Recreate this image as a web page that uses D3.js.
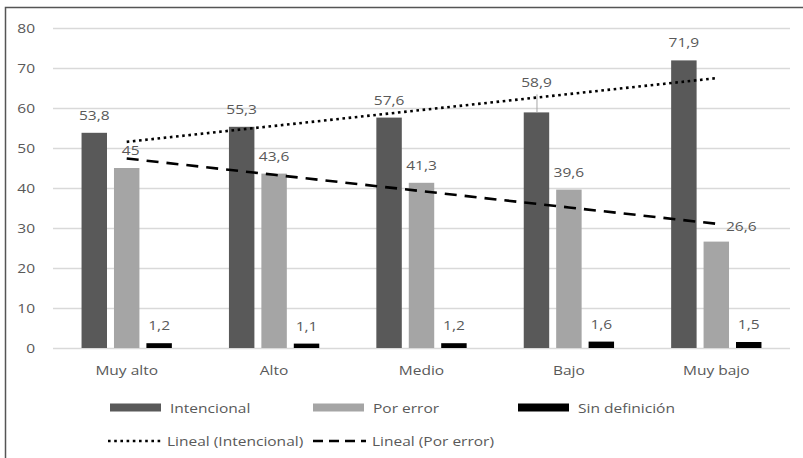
<!DOCTYPE html>
<html>
<head>
  <meta charset="utf-8">
  <script src="https://d3js.org/d3.v7.min.js"></script>
  <style>
    body { margin: 0; background: #fff; }
    svg text { font-family: "Open Sans", "Noto Sans", sans-serif; fill: #595959; font-size: 13.5px; }
  </style>
</head>
<body>
  <svg id="chart" width="803" height="458"></svg>
  <script>
    // data
    const categories = ["Muy alto", "Alto", "Medio", "Bajo", "Muy bajo"];
    const seriesNames = ["Intencional", "Por error", "Sin definición"];
    const intencional = [53.8, 55.3, 57.6, 58.9, 71.9];
    const porError = [45, 43.6, 41.3, 39.6, 26.6];
    const sinDefinicion = [1.2, 1.1, 1.2, 1.6, 1.5];
    const yTicks = [0, 10, 20, 30, 40, 50, 60, 70, 80];

    const colors = { "Intencional": "#595959", "Por error": "#a5a5a5", "Sin definición": "#000000" };
    const valuesBySeries = { "Intencional": intencional, "Por error": porError, "Sin definición": sinDefinicion };

    // a few data labels were dragged by hand in the original
    const labelNudge = {
      "Por error|Muy alto": { dx: 4, dy: 0 },
      "Intencional|Bajo": { dx: 0, dy: -12, leader: true },
      "Por error|Muy bajo": { dx: 25, dy: 2 }
    };

    const svg = d3.select("#chart");
    const mLeft = 53, mRight = 790, mTop = 28, mBottom = 348;

    // the source image is stretched sideways, so text gets a horizontal scale
    function addText(parent, x, yy, str, anchor) {
      parent.append("g")
        .attr("transform", `translate(${x},${yy}) scale(1.15,1)`)
        .append("text")
        .attr("text-anchor", anchor || "start")
        .text(str);
    }

    // chart border (right/bottom fall outside the picture)
    svg.append("rect")
      .attr("x", 5.5).attr("y", 7.5)
      .attr("width", 820).attr("height", 480)
      .attr("fill", "none").attr("stroke", "#555").attr("stroke-width", 1.5);

    const y = d3.scaleLinear().domain([0, 80]).range([mBottom, mTop]);
    const x0 = d3.scaleBand().domain(categories).range([mLeft, mRight]);
    const groupW = x0.bandwidth() * 0.66;
    const x1 = d3.scaleBand().domain(seriesNames)
      .range([-groupW / 2, groupW / 2])
      .paddingInner(0.215).paddingOuter(0.1075);

    // gridlines
    svg.append("g").selectAll("line").data(yTicks).join("line")
      .attr("x1", mLeft).attr("x2", mRight)
      .attr("y1", d => Math.round(y(d)) + 0.5).attr("y2", d => Math.round(y(d)) + 0.5)
      .attr("stroke", "#d9d9d9").attr("stroke-width", 1.3);

    const yLab = svg.append("g");
    yTicks.forEach(t => addText(yLab, 35, y(t) + 4.8, t, "end"));

    const xLab = svg.append("g");
    categories.forEach(c => addText(xLab, x0(c) + x0.bandwidth() / 2, 374.8, c, "middle"));

    const bars = [];
    seriesNames.forEach(s => {
      categories.forEach((c, i) => bars.push({ s, c, v: valuesBySeries[s][i] }));
    });
    const barX = d => x0(d.c) + x0.bandwidth() / 2 + x1(d.s);

    svg.append("g").selectAll("rect").data(bars).join("rect")
      .attr("x", barX).attr("width", x1.bandwidth())
      .attr("y", d => y(d.v)).attr("height", d => y(0) - y(d.v))
      .attr("fill", d => colors[d.s]);

    // linear trendlines (least squares over category index)
    function fit(vals) {
      const n = vals.length, xs = d3.range(1, n + 1);
      const mx = d3.mean(xs), my = d3.mean(vals);
      const b = d3.sum(xs, (xx, i) => (xx - mx) * (vals[i] - my)) / d3.sum(xs, xx => (xx - mx) ** 2);
      return xs.map(xx => my + b * (xx - mx));
    }
    const cx = c => x0(c) + x0.bandwidth() / 2;
    const line = d3.line().x((d, i) => cx(categories[i])).y(d => y(d));

    svg.append("path").datum(fit(intencional))
      .attr("d", line).attr("fill", "none").attr("stroke", "#000")
      .attr("stroke-width", 2.6).attr("stroke-dasharray", "2.6,3.6");
    svg.append("path").datum(fit(porError))
      .attr("d", line).attr("fill", "none").attr("stroke", "#000")
      .attr("stroke-width", 2.6).attr("stroke-dasharray", "12,8");

    // data labels
    const fmt = v => String(v).replace(".", ",");
    const lab = svg.append("g");
    bars.forEach(d => {
      const n = labelNudge[d.s + "|" + d.c] || { dx: 0, dy: 0 };
      const lx = barX(d) + x1.bandwidth() / 2 + n.dx;
      const ly = y(d.v) - 13 + n.dy;
      if (n.leader) {
        lab.append("line")
          .attr("x1", lx + 0.5).attr("x2", lx + 0.5)
          .attr("y1", ly + 7).attr("y2", y(d.v))
          .attr("stroke", "#a6a6a6").attr("stroke-width", 1);
      }
      addText(lab, lx, ly, fmt(d.v), "middle");
    });

    // legend
    const leg = svg.append("g");
    const row1 = [
      { name: "Intencional", x: 110 },
      { name: "Por error", x: 313 },
      { name: "Sin definición", x: 518 }
    ];
    row1.forEach(r => {
      leg.append("rect").attr("x", r.x).attr("y", 403.5).attr("width", 51).attr("height", 8)
        .attr("fill", colors[r.name]);
      addText(leg, r.x + 60, 412.5, r.name);
    });
    const row2 = [
      { name: "Lineal (Intencional)", x: 108, dash: "2.6,3.6" },
      { name: "Lineal (Por error)", x: 313, dash: "10,6" }
    ];
    row2.forEach(r => {
      leg.append("line").attr("x1", r.x).attr("x2", r.x + 53)
        .attr("y1", 441).attr("y2", 441)
        .attr("stroke", "#000").attr("stroke-width", 2.6).attr("stroke-dasharray", r.dash);
      addText(leg, r.x + 59, 446, r.name);
    });
  </script>
</body>
</html>
